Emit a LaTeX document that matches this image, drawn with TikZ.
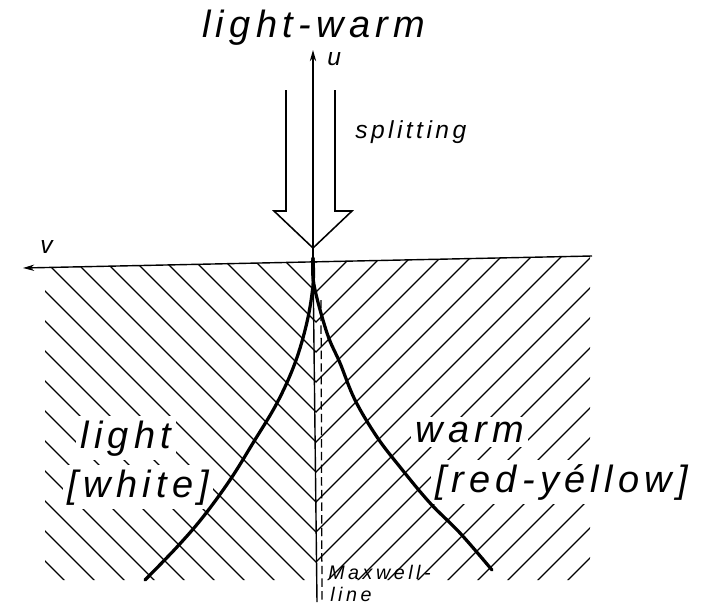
\documentclass[tikz,border=0pt]{standalone}
\usepackage{fontspec}
\setmainfont{Liberation Sans}
\newfontfamily\isofont[LetterSpace=14]{Liberation Sans}
\newfontfamily\isosmall[LetterSpace=18]{Liberation Sans}
\usetikzlibrary{arrows.meta}

\begin{document}
\begin{tikzpicture}[
    x=0.025cm, y=-0.025cm,
    hatch/.style={line width=0.85pt, line cap=round},
    axisline/.style={line width=1pt},
    axisarr/.style={axisline, -{Stealth[length=8pt,width=4.5pt]}},
    cusp/.style={line width=2.3pt, line cap=round, line join=round},
    maxwell/.style={line width=0.9pt, dash pattern=on 6pt off 3pt},
    hollow/.style={line width=1.1pt, line join=miter},
    biglabel/.style={font=\isofont\itshape\fontsize{27}{30}\selectfont, anchor=base west, inner sep=0pt},
    knock/.style={biglabel, fill=white, inner sep=3pt},
    midlabel/.style={font=\isofont\itshape\fontsize{17.5}{20}\selectfont, anchor=base west, inner sep=0pt},
    smalllabel/.style={font=\isosmall\itshape\fontsize{14}{16}\selectfont, anchor=base west, inner sep=0pt}
  ]
  \useasboundingbox (0,0) rectangle (716,605);

  % hatched half planes
  \begin{scope}
    \clip (45,267.5) -- (316,261.8) -- (316,580) -- (45,580) -- cycle;
    \foreach \c in {-54,-24,...,546}
      \draw[hatch] (0,\c) -- (700,700+\c);
  \end{scope}
  \begin{scope}
    \clip (316,261.8) -- (590,256) -- (590,580) -- (316,580) -- cycle;
    \foreach \c in {578,608,...,1178}
      \draw[hatch] (300,\c-300) -- (700,\c-700);
  \end{scope}

  % labels
  \node[biglabel] (title) at (202,37) {light-warm};
  \node[midlabel] (split) at (355,138) {splitting};
  \node[midlabel] (ulbl) at (327,65) {u};
  \node[midlabel] (vlbl) at (40,253) {v};
  \node[knock] (light) at (76,448) {light};
  \node[knock] (white) at (63,497) {[white]};
  \node[knock] (warm) at (411,442) {warm};
  \node[knock] (redyellow) at (431,492) {[red-yéllow]};
  \node[smalllabel] (mxa) at (328,579) {Maxwell-};
  \node[smalllabel] (mxb) at (330,601) {line};

  % axes
  \coordinate (O) at (313,262);
  \coordinate (uend) at (313,50);
  \coordinate (vend) at (23,268);
  \coordinate (rend) at (592,256);
  \coordinate (cbot) at (317,602);
  \coordinate (mtop) at (321,300);
  \coordinate (mbot) at (322,602);
  \draw[axisarr] (O) -- (uend);
  \draw[axisarr] (rend) -- (vend);
  \draw[axisline] (O) -- (cbot);
  \draw[maxwell] (mtop) -- (mbot);

  % splitting arrow
  \draw[hollow] (286,90) -- (286,211) -- (274,211) -- (313,248) -- (352,211) -- (335,211) -- (335,90);

  % cusp
  \draw[cusp] plot[smooth, tension=0.6] coordinates {(313,258) (313,285) (307,322) (295,363) (277,403) (253,443) (230,480) (203,517) (177,547) (145,580)};
  \draw[cusp] plot[smooth, tension=0.6] coordinates {(313,258) (314,285) (327,333) (340,363) (355,400) (377,437) (400,467) (430,503) (460,533) (492,570)};
\end{tikzpicture}
\end{document}
